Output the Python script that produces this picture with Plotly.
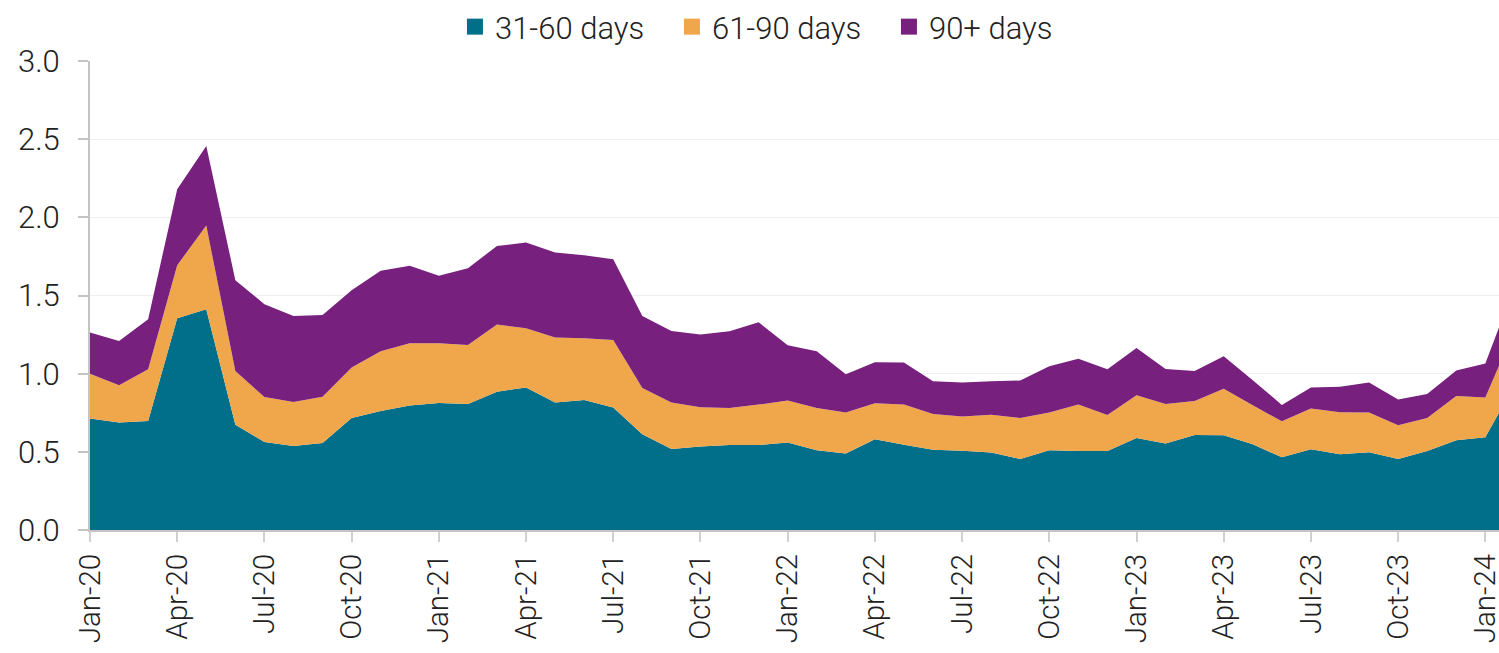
import pandas as pd
import plotly.graph_objects as go

months = [d.strftime("%b-%y") for d in pd.date_range("2020-01-01", "2024-02-01", freq="MS")]

d31_60 = [0.713, 0.687, 0.697, 1.354, 1.412, 0.674, 0.563, 0.537, 0.557, 0.717,
          0.761, 0.796, 0.813, 0.806, 0.885, 0.911, 0.815, 0.832, 0.783, 0.612,
          0.518, 0.534, 0.544, 0.544, 0.559, 0.510, 0.489, 0.580, 0.546, 0.514,
          0.507, 0.495, 0.454, 0.510, 0.506, 0.506, 0.589, 0.553, 0.608, 0.606,
          0.548, 0.465, 0.516, 0.484, 0.497, 0.454, 0.506, 0.574, 0.593, 0.926]
d61_90 = [0.287, 0.239, 0.331, 0.340, 0.535, 0.343, 0.288, 0.282, 0.296, 0.322,
          0.382, 0.398, 0.381, 0.378, 0.429, 0.379, 0.416, 0.394, 0.433, 0.297,
          0.297, 0.251, 0.237, 0.258, 0.269, 0.271, 0.262, 0.231, 0.256, 0.228,
          0.219, 0.243, 0.263, 0.241, 0.296, 0.230, 0.273, 0.253, 0.217, 0.298,
          0.250, 0.230, 0.261, 0.269, 0.254, 0.216, 0.211, 0.283, 0.254, 0.353]
d90p = [0.263, 0.283, 0.320, 0.486, 0.510, 0.581, 0.593, 0.550, 0.523, 0.495,
        0.516, 0.497, 0.433, 0.490, 0.503, 0.549, 0.544, 0.531, 0.516, 0.460,
        0.458, 0.465, 0.490, 0.527, 0.354, 0.362, 0.245, 0.262, 0.269, 0.209,
        0.218, 0.213, 0.239, 0.296, 0.294, 0.292, 0.302, 0.224, 0.192, 0.208,
        0.160, 0.105, 0.134, 0.164, 0.192, 0.164, 0.153, 0.163, 0.218, 0.277]

series_names = ["31-60 days", "61-90 days", "90+ days"]
series_vals = [d31_60, d61_90, d90p]
colors = ["#016f8a", "#f0a64b", "#77207d"]

tick_labels = months[::3]

FONT = "Roboto, Liberation Sans, Arial, sans-serif"
TXT = "#222222"
FS = 31

fig = go.Figure()
for name, vals, col in zip(series_names, series_vals, colors):
    fig.add_trace(go.Scatter(
        x=months, y=vals, name=name, mode="none", stackgroup="one",
        fillcolor=col, line=dict(width=0), showlegend=False, hoverinfo="x+y+name"))
for name, col in zip(series_names, colors):
    fig.add_trace(go.Scatter(
        x=[None], y=[None], name=name, mode="markers",
        marker=dict(symbol="square", size=17, color=col), showlegend=True))

fig.update_layout(
    width=1499, height=653,
    margin=dict(l=90, r=0, t=61, b=123, autoexpand=False),
    paper_bgcolor="white", plot_bgcolor="white",
    font=dict(family=FONT, size=FS, color=TXT, weight=300),
    legend=dict(orientation="h", x=0.3035, xanchor="left", xref="container",
                y=1.0, yanchor="top", yref="container",
                font=dict(size=FS, color=TXT),
                itemwidth=30, tracegroupgap=0, traceorder="normal",
                entrywidth=172, entrywidthmode="pixels",
                bgcolor="rgba(0,0,0,0)"),
    showlegend=True,
)
fig.update_xaxes(
    type="category", range=[0, 48.47], tickvals=tick_labels, ticktext=tick_labels,
    tickangle=-90, showline=True, linecolor="#c4c4c4", linewidth=2,
    ticks="outside", ticklen=10, tickcolor="#d0d0d0", tickwidth=2,
    showgrid=False, zeroline=False, tickfont=dict(size=29.5, color=TXT),
)
fig.update_yaxes(
    range=[0, 3.0], dtick=0.5, tickformat=".1f", showline=True, linecolor="#c4c4c4",
    linewidth=2, ticks="outside", ticklen=10, tickcolor="#c4c4c4", tickwidth=2,
    showgrid=True, gridcolor="#efefef", gridwidth=1, zeroline=False,
    tickfont=dict(size=FS, color=TXT), ticklabelstandoff=12,
)

fig.write_html("out.html", config={"displayModeBar": False},
               post_script="document.body.style.margin='0';document.body.style.overflow='hidden';")
